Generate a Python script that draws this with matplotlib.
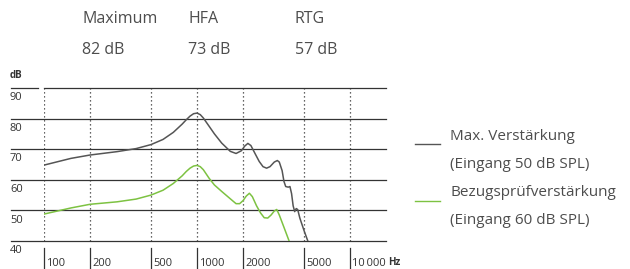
import numpy as np
import matplotlib
matplotlib.use("Agg")
import matplotlib.pyplot as plt

plt.rcParams['font.family'] = ['Open Sans', 'DejaVu Sans']

# curve data (Hz, dB)
max_freq = [100, 150, 200, 300, 400, 500, 600, 700, 800, 850, 900, 950, 1000, 1050, 1100,
            1200, 1300, 1450, 1650, 1800, 1950, 2050, 2150, 2250, 2400, 2550, 2700, 2850,
            3000, 3200, 3350, 3450, 3600, 3700, 3800, 3950, 4050, 4150, 4250, 4350, 4450,
            4550, 4700, 5000, 5300]
max_db = [64.8, 67.0, 68.1, 69.2, 70.2, 71.5, 73.2, 75.5, 78.2, 79.6, 80.8, 81.6, 81.8, 81.3, 80.2,
          77.5, 75.0, 72.0, 69.3, 68.6, 69.5, 71.0, 71.9, 71.2, 68.5, 66.0, 64.3, 63.8,
          64.3, 65.8, 66.3, 65.8, 63.0, 59.5, 57.8, 57.6, 57.8, 55.5, 51.5, 49.6, 50.6,
          50.3, 47.5, 43.5, 40.0]

ref_freq = [100, 150, 200, 300, 400, 500, 600, 700, 800, 850, 900, 950, 1000, 1050, 1100,
            1200, 1300, 1450, 1650, 1800, 1900, 2000, 2100, 2200, 2300, 2450, 2600, 2750,
            2900, 3050, 3200, 3320, 3450, 3700, 4000]
ref_db = [48.8, 50.8, 52.0, 52.8, 53.7, 55.0, 56.6, 58.8, 61.3, 62.7, 63.8, 64.5, 64.7, 64.3, 63.3,
          60.5, 58.3, 56.2, 53.8, 52.2, 52.2, 53.2, 54.7, 55.6, 54.5, 51.5, 49.2, 47.6,
          47.5, 48.5, 49.8, 50.3, 48.5, 44.5, 40.0]

xticks = [100, 200, 500, 1000, 2000, 5000, 10000]
xlabels = ['100', '200', '500', '1000', '2000', '5000', '10\u2009000']
ylevels = [40, 50, 60, 70, 80, 90]

headers = ['Maximum', 'HFA', 'RTG']
header_vals = ['82 dB', '73 dB', '57 dB']

legend_lines = [('Max. Verstärkung', '(Eingang 50 dB SPL)', '#555555'),
                ('Bezugsprüfverstärkung', '(Eingang 60 dB SPL)', '#7dc242')]

txt = '#4d4d4d'
W, H = 630, 269
fig = plt.figure(figsize=(W / 100, H / 100), dpi=100)
# pixel positions: 100 Hz at x=44, ~16600 Hz at x=386; 90 dB at y=88, 40 dB at y=241
ax = fig.add_axes([44 / W, (H - 241) / H, 342 / W, 153 / H])
ax.set_xscale('log')
xmax = 10 ** (2 + 342 / 153)
ax.set_xlim(100, xmax)
ax.set_ylim(40, 90)
for s in ax.spines.values():
    s.set_visible(False)
ax.set_xticks([])
ax.set_yticks([])
ax.minorticks_off()
ax.patch.set_alpha(0)

# horizontal grid lines, extended to the left over the labels
left_frac = (11 - 44) / 342
for lv in ylevels:
    if lv == 90:
        ax.axhline(lv, xmin=left_frac, xmax=(38 - 44) / 342, color='#333333', lw=0.9, clip_on=False)
        ax.axhline(lv, xmin=0, xmax=1, color='#333333', lw=0.9, clip_on=False)
    else:
        ax.axhline(lv, xmin=left_frac, xmax=1, color='#333333', lw=0.9, clip_on=False)
    ax.text(left_frac - 0.003, lv - 1.4, str(lv), transform=ax.get_yaxis_transform(),
            ha='left', va='top', fontsize=8, color='#333333')

# dotted verticals
for f in xticks:
    ax.axvline(f, ymin=0, ymax=1, color='#333333', lw=0.9, linestyle=(0, (1, 2.2)))

ax.plot(max_freq, max_db, color='#555555', lw=1.1, clip_on=True)
ax.plot(ref_freq, ref_db, color='#7dc242', lw=1.1, clip_on=True)

# x tick marks and labels below the axis
for f, lab in zip(xticks, xlabels):
    ax.plot([f, f], [-0.045, -0.175], transform=ax.get_xaxis_transform(),
            color='#333333', lw=0.9, clip_on=False)
    ax.text(f * 1.035, -0.185, lab, transform=ax.get_xaxis_transform(),
            ha='left', va='bottom', fontsize=8, color='#333333')
fig.text(388 / W, 1 - 268 / H, 'Hz', ha='left', va='bottom', fontsize=7, fontweight='bold', color='#333333')
fig.text(10 / W, 1 - 75 / H, 'dB', ha='left', va='center', fontsize=7, fontweight='bold', color='#333333')

# header values
for x, h, v in zip([82, 188, 295], headers, header_vals):
    fig.text(x / W, 1 - 19 / H, h, ha='left', va='center', fontsize=11.5, color=txt)
    fig.text(x / W, 1 - 50 / H, v, ha='left', va='center', fontsize=11.5, color=txt)

# legend
for i, (l1, l2, c) in enumerate(legend_lines):
    y0 = 136 + i * 57
    fig.add_artist(plt.Line2D([415 / W, 440 / W], [1 - (y0 + 8) / H] * 2, color=c, lw=1.0))
    fig.text(450 / W, 1 - y0 / H, l1, ha='left', va='center', fontsize=11, color=txt)
    fig.text(450 / W, 1 - (y0 + 28) / H, l2, ha='left', va='center', fontsize=11, color=txt)

fig.savefig('out.png', dpi=100)
